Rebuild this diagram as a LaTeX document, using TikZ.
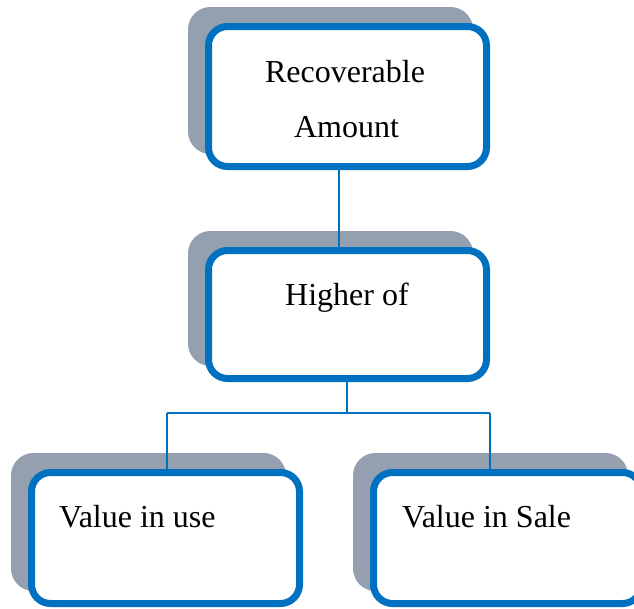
\documentclass[tikz,border=0pt]{standalone}
\usepackage{fontspec}
\setmainfont{Liberation Serif}
\usetikzlibrary{shadows}
\definecolor{boxblue}{RGB}{0,112,192}
\definecolor{shadowgray}{RGB}{148,160,175}
\tikzset{
  card/.style={rectangle, draw=boxblue, fill=white, line width=7pt,
    rounded corners=19pt, inner sep=0pt,
    general shadow={fill=shadowgray, draw=shadowgray, line width=7pt,
      shadow xshift=-17pt, shadow yshift=16pt}},
  label/.style={font=\fontsize{32}{55}\selectfont, inner sep=0pt},
  link/.style={draw=boxblue, line width=1.5pt}
}
\begin{document}
\begin{tikzpicture}[x=1pt, y=-1pt]
  \useasboundingbox (0,0) rectangle (634,608);
  \clip (0,0) rectangle (634,608);

  % boxes
  \node[card, minimum width=278pt, minimum height=140pt] (rec) at (347.5,96.5) {};
  \node[card, minimum width=278pt, minimum height=128pt] (hig) at (347.5,314.5) {};
  \node[card, minimum width=268pt, minimum height=131pt] (viu) at (165.5,538) {};
  \node[card, minimum width=268pt, minimum height=131pt] (vis) at (507.5,538) {};

  % texts
  \node[label, anchor=base] (rectxt) at (345,82) {Recoverable};
  \node[label, anchor=base] (amttxt) at (346.5,137) {Amount};
  \node[label, anchor=base] (higtxt) at (347,305) {Higher of};
  \node[label, anchor=base west] (viutxt) at (59,527) {Value in use};
  \node[label, anchor=base west] (vistxt) at (402,527) {Value in Sale};

  % connectors
  \coordinate (top) at (339,0);
  \coordinate (fork) at (347,413);
  \coordinate (forkL) at (167,413);
  \coordinate (forkR) at (490,413);
  \draw[link] (rec.south -| top) -- (hig.north -| top);
  \draw[link] (hig.south -| fork) -- (fork);
  \draw[link] (forkL) -- (forkR);
  \draw[link] (forkL) -- (viu.north -| forkL);
  \draw[link] (forkR) -- (vis.north -| forkR);
\end{tikzpicture}
\end{document}
